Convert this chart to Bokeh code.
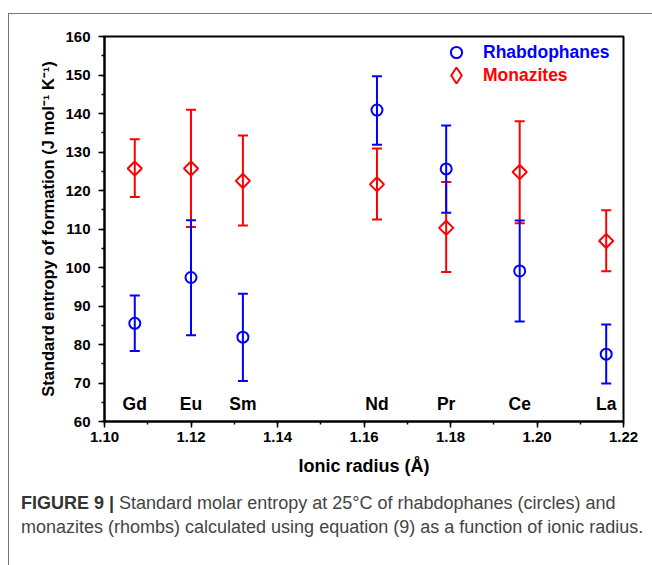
from bokeh.plotting import figure
from bokeh.models import (ColumnDataSource, Whisker, TeeHead, Legend, LegendItem,
                          Range1d, LabelSet, Div, SingleIntervalTicker, NumeralTickFormatter)
from bokeh.layouts import column
from bokeh.embed import file_html
from bokeh.resources import INLINE
from bokeh.core.properties import value
import math

# ---------------- data ----------------
elements = ["Gd", "Eu", "Sm", "Nd", "Pr", "Ce", "La"]
ionic_radius = [1.107, 1.120, 1.132, 1.163, 1.179, 1.196, 1.216]

rhab_entropy = [85.5, 97.4, 81.9, 140.9, 125.6, 99.1, 77.5]
rhab_lower = [78.3, 82.4, 70.5, 131.9, 114.2, 86.0, 69.9]
rhab_upper = [92.7, 112.3, 93.2, 149.7, 136.9, 112.2, 85.2]

mona_entropy = [125.7, 125.7, 122.5, 121.6, 110.3, 124.8, 106.9]
mona_lower = [118.3, 110.5, 110.9, 112.5, 98.8, 111.5, 99.0]
mona_upper = [133.3, 141.0, 134.3, 130.9, 122.2, 138.0, 114.9]

series_names = ["Rhabdophanes", "Monazites"]
label_level = 64.5

FONT = "Liberation Sans"
BLUE = "#0000FF"
RED = "#FF0000"

rhab = ColumnDataSource(dict(x=ionic_radius, y=rhab_entropy, lower=rhab_lower, upper=rhab_upper))
mona = ColumnDataSource(dict(x=ionic_radius, y=mona_entropy, lower=mona_lower, upper=mona_upper))
labels_src = ColumnDataSource(dict(x=ionic_radius, y=[label_level] * len(elements), text=elements))

p = figure(frame_width=519, frame_height=385,
           min_border_left=95, min_border_right=26, min_border_top=22, min_border_bottom=60,
           x_range=Range1d(1.10, 1.22), y_range=Range1d(60, 160),
           output_backend="svg", toolbar_location=None)
p.background_fill_color = "white"
p.border_fill_color = "white"
p.outline_line_color = "black"
p.outline_line_width = 2
p.outline_line_alpha = 1
p.grid.visible = False
# off-screen range used only by the legend key renderer of the rhombs
p.extra_y_ranges = {"legend_key": Range1d(1000, 2000)}

p.xaxis.ticker = SingleIntervalTicker(interval=0.02, num_minor_ticks=2)
p.xaxis.formatter = NumeralTickFormatter(format="0.00")
p.yaxis.ticker = SingleIntervalTicker(interval=10, num_minor_ticks=2)

for ax in (p.xaxis[0], p.yaxis[0]):
    ax.axis_line_width = 2
    ax.axis_line_color = "black"
    ax.major_tick_out = 6
    ax.major_tick_in = 0
    ax.minor_tick_out = 3
    ax.minor_tick_in = 0
    ax.major_tick_line_width = 1.5
    ax.minor_tick_line_width = 1.5
    ax.major_tick_line_color = "black"
    ax.minor_tick_line_color = "black"
    ax.major_label_text_font = FONT
    ax.major_label_text_font_style = "bold"
    ax.major_label_text_font_size = "15px"
    ax.major_label_text_color = "black"
    ax.axis_label_text_font = FONT
    ax.axis_label_text_font_style = "bold"
    ax.axis_label_text_color = "black"

p.xaxis.axis_label = "Ionic radius (Å)"
p.yaxis.axis_label = "Standard entropy of formation (J mol⁻¹ K⁻¹)"
p.xaxis.axis_label_text_font_size = "18px"
p.yaxis.axis_label_text_font_size = "16.5px"
p.xaxis.major_label_standoff = 4
p.xaxis.axis_label_standoff = 11
p.yaxis.major_label_standoff = 8
p.yaxis.axis_label_standoff = 5

# error bars
for src, col in ((mona, RED), (rhab, BLUE)):
    w = Whisker(source=src, base="x", lower="lower", upper="upper",
                line_color=col, line_width=2,
                upper_head=TeeHead(size=10, line_color=col, line_width=2),
                lower_head=TeeHead(size=10, line_color=col, line_width=2))
    p.add_layout(w)

r_mona = p.scatter("x", "y", source=mona, marker="square", angle=math.pi / 4, size=10,
                   line_color=RED, line_width=2, fill_color=None)
r_rhab = p.scatter("x", "y", source=rhab, marker="circle", size=11,
                   line_color=BLUE, line_width=2, fill_color=None)

# legend keys are drawn unrotated, so the rhomb key comes from a diamond renderer
# mapped onto an off-screen range (it draws nothing inside the frame)
r_mona_key = p.scatter("x", "y", source=mona, y_range_name="legend_key",
                       marker="diamond", size=10,
                       line_color=RED, line_width=2, fill_color=None)

labels = LabelSet(x="x", y="y", text="text", source=labels_src,
                  text_align="center", text_baseline="middle",
                  text_font=value(FONT), text_font_style="bold",
                  text_font_size="17.5px", text_color="black")
p.add_layout(labels)

legend_specs = [
    (series_names[0], r_rhab, BLUE, (338, 355), 28, 13),
    (series_names[1], r_mona_key, RED, (332, 326), 40, 7),
]
for name, rend, col, loc, gsz, lst in legend_specs:
    lg = Legend(items=[LegendItem(label=name, renderers=[rend])], location=loc,
                border_line_color=None, background_fill_alpha=0,
                padding=0, margin=0, glyph_width=gsz, glyph_height=gsz,
                label_height=gsz, label_standoff=lst,
                label_text_font=FONT, label_text_font_style="bold",
                label_text_font_size="17.5px", label_text_color=col)
    p.add_layout(lg)

caption = Div(
    text=('<b style="color:#333">FIGURE 9 |</b> Standard molar entropy at 25°C of rhabdophanes '
          '(circles) and<br>monazites (rhombs) calculated using equation (9) as a function of ionic radius.'),
    width=636, height=70,
    styles={"font-family": "'Liberation Sans', Arial, sans-serif",
            "font-size": "18px", "line-height": "24px", "color": "#444",
            "padding-left": "7px", "margin-top": "10px"})

layout = column(p, caption,
                styles={"border-left": "1px solid #777", "border-top": "1px solid #777",
                        "margin-left": "8px", "margin-top": "13px"})

open("out.html", "w").write(file_html(layout, INLINE))
